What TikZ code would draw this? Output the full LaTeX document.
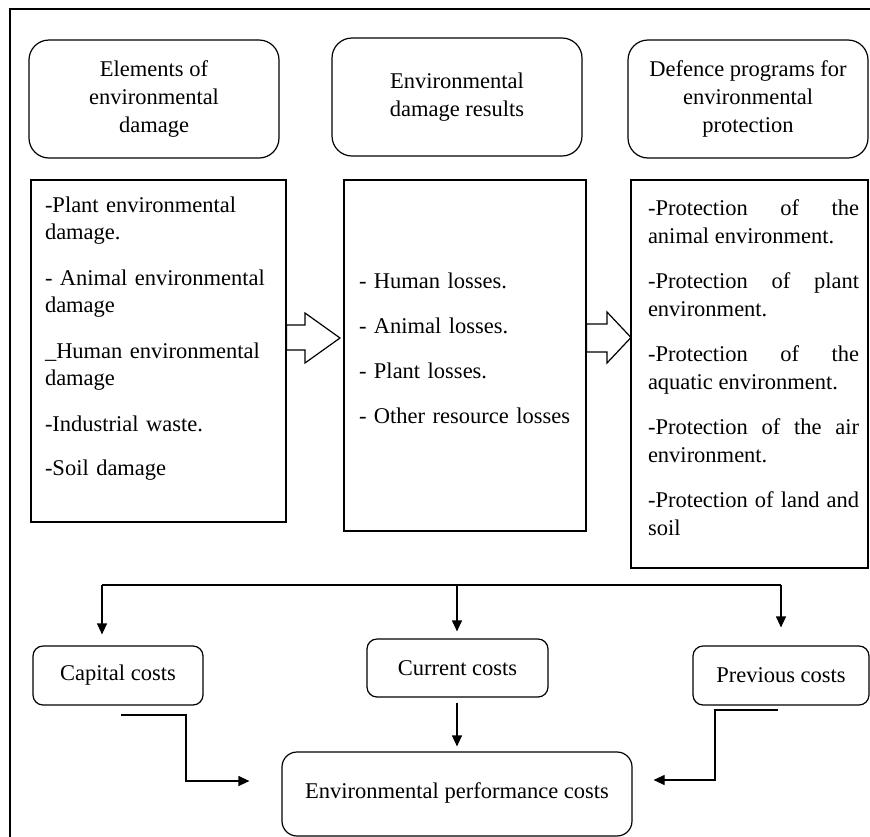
\documentclass[tikz,border=0pt]{standalone}
\usepackage{fontspec}
\setmainfont{Liberation Serif}
\usetikzlibrary{arrows.meta}
\begin{document}
\begin{tikzpicture}[x=1pt,y=-1pt,line width=1.2pt,
  font=\fontsize{22.5}{28}\selectfont,
  topbox/.style={draw,rounded corners=20pt,align=center,inner sep=0pt},
  midbox/.style={draw,rectangle,inner sep=0pt},
  listtext/.style={anchor=north west,inner sep=0pt},
  costbox/.style={draw,rounded corners=10pt,inner sep=0pt},
  conn/.style={-{Triangle[length=11pt,width=10pt]}},
  hollow/.style={draw,fill=white,line join=miter}]
\useasboundingbox (0,0) rectangle (870,836);

% outer frame
\draw (10,840) -- (10,9) -- (875,9);

% headings
\node[topbox,minimum width=250,minimum height=118] (h1) at (154,99)
  {Elements of\\environmental\\damage};
\node[topbox,minimum width=250,minimum height=118] (h2) at (457,97)
  {Environmental\\damage results};
\node[topbox,minimum width=240,minimum height=118] (h3) at (748,99)
  {Defence programs for\\environmental\\protection};

% lists
\node[midbox,minimum width=255,minimum height=342] (m1) at (158.5,351) {};
\node[midbox,minimum width=242,minimum height=351] (m2) at (465,355.5) {};
\node[midbox,minimum width=237,minimum height=388] (m3) at (749.5,374) {};

\node[listtext,text width=235pt,align=left,
      font=\fontsize{22.5}{27.5}\selectfont] (l1) at ([shift={(14,16.5)}]m1.north west)
  {-Plant environmental\\damage.\\[18pt]
   - Animal environmental\\damage\\[18pt]
   \_Human environmental\\damage\\[18pt]
   -Industrial waste.\\[17pt]
   -Soil damage};

\node[listtext,text width=225pt,align=left] (l2) at ([shift={(15,93)}]m2.north west)
  {- Human losses.\\[17pt]
   - Animal losses.\\[17pt]
   - Plant losses.\\[17pt]
   - Other resource losses};

\node[listtext,text width=211pt,align=justify] (l3) at ([shift={(17,20)}]m3.north west)
  {\parindent=0pt\parskip=17pt
   -Protection of the\linebreak animal environment.\par
   -Protection of plant\linebreak environment.\par
   -Protection of the\linebreak aquatic environment.\par
   -Protection of the air\linebreak environment.\par
   -Protection of land and\linebreak soil\par};

% block arrows between the lists
\draw[hollow] (m1.east |- 0,325) -- (305,325) -- (305,313) -- (340,338)
  -- (305,363) -- (305,350) -- (m1.east |- 0,350) -- cycle;
\draw[hollow] (m2.east |- 0,324) -- (607,324) -- (607,312) -- (631,337.5)
  -- (607,363) -- (607,352) -- (m2.east |- 0,352) -- cycle;

% cost boxes
\node[costbox,minimum width=170,minimum height=59] (cap) at (118,675.5) {Capital costs};
\node[costbox,minimum width=181,minimum height=58] (cur) at (457.5,668) {Current costs};
\node[costbox,minimum width=176,minimum height=59] (prev) at (781,675.5) {Previous costs};
\node[costbox,rounded corners=15pt,minimum width=350,minimum height=84] (env) at (457,794)
  {\raisebox{6pt}{Environmental performance costs}};

% distribution line
\coordinate (s1) at (102,585);
\coordinate (s2) at (457,585);
\coordinate (s3) at (781,585);
\draw (s1) -- (s3);
\draw[conn,shorten >=11pt] (s1) -- (s1 |- cap.north);
\draw[conn,shorten >=7pt] (s2) -- (s2 |- cur.north);
\draw[conn,shorten >=18pt] (s3) -- (s3 |- prev.north);

% into the performance costs
\coordinate (c1) at (121,715);
\coordinate (cb) at (186,781);
\draw[conn,shorten >=32pt] (c1) -| (cb) -- (cb -| env.west);
\draw[conn,shorten <=5pt,shorten >=5pt] (cur.south -| s2) -- (s2 |- env.north);
\coordinate (p1) at (778,710);
\coordinate (pb) at (715,780);
\draw[conn,shorten >=21pt] (p1) -| (pb) -- (pb -| env.east);
\end{tikzpicture}
\end{document}
